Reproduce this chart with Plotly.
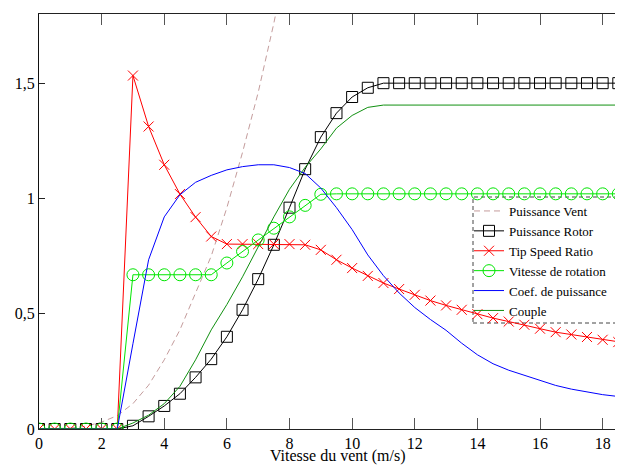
import plotly.graph_objects as go

# Wind speed (m/s)
vitesse = [0, 0.5, 1, 1.5, 2, 2.5, 3, 3.5, 4, 4.5, 5, 5.5, 6, 6.5, 7, 7.5, 8, 8.5, 9, 9.5,
           10, 10.5, 11, 11.5, 12, 12.5, 13, 13.5, 14, 14.5, 15, 15.5, 16, 16.5, 17, 17.5,
           18, 18.5, 19]

puissance_vent = [0, 0.0005, 0.004, 0.012, 0.03, 0.058, 0.11, 0.19, 0.30, 0.43, 0.59, 0.75,
                  0.96, 1.2, 1.46, 1.76, 2.1]

puissance_rotor = [0, 0, 0, 0, 0, 0, 0.014, 0.055, 0.10, 0.153, 0.224, 0.303, 0.40, 0.517,
                   0.65, 0.799, 0.96, 1.127, 1.266, 1.37, 1.44, 1.48, 1.50, 1.50, 1.50, 1.50,
                   1.50, 1.50, 1.50, 1.50, 1.50, 1.50, 1.50, 1.50, 1.50, 1.50, 1.50, 1.50, 1.50]

tip_speed_ratio = [0, 0, 0, 0, 0, 0, 1.533, 1.312, 1.146, 1.019, 0.919, 0.835, 0.802, 0.802,
                   0.802, 0.802, 0.802, 0.799, 0.777, 0.734, 0.698, 0.664, 0.633, 0.607, 0.582,
                   0.557, 0.536, 0.517, 0.498, 0.481, 0.466, 0.452, 0.435, 0.42, 0.41, 0.399,
                   0.387, 0.377, 0.368]

vitesse_rotation = [0, 0, 0, 0, 0, 0, 0.669, 0.669, 0.669, 0.669, 0.669, 0.669, 0.72, 0.77,
                    0.82, 0.871, 0.92, 0.97, 1.018, 1.02, 1.02, 1.02, 1.02, 1.02, 1.02, 1.02,
                    1.02, 1.02, 1.02, 1.02, 1.02, 1.02, 1.02, 1.02, 1.02, 1.02, 1.02, 1.02, 1.02]

coef_puissance = [0, 0, 0, 0, 0, 0, 0.37, 0.734, 0.92, 1.016, 1.07, 1.10, 1.124, 1.138, 1.146,
                  1.146, 1.134, 1.108, 1.045, 0.96, 0.865, 0.755, 0.665, 0.59, 0.527, 0.475,
                  0.428, 0.372, 0.322, 0.283, 0.255, 0.232, 0.209, 0.189, 0.173, 0.16, 0.149,
                  0.141, 0.134]

couple = [0, 0, 0, 0, 0, 0, 0.026, 0.06, 0.11, 0.185, 0.30, 0.43, 0.54, 0.66, 0.79, 0.92,
          1.04, 1.135, 1.215, 1.305, 1.36, 1.395, 1.405, 1.405, 1.405, 1.405, 1.405, 1.405,
          1.405, 1.405, 1.405, 1.405, 1.405, 1.405, 1.405, 1.405, 1.405, 1.405, 1.405]

x_ticks = [0, 2, 4, 6, 8, 10, 12, 14, 16, 18]
y_ticks = [0, 0.5, 1, 1.5]
y_tick_labels = ["0", "0,5", "1", "1,5"]

FONT = "Liberation Serif, Times New Roman, serif"

fig = go.Figure()
fig.add_trace(go.Scatter(x=vitesse[:len(puissance_vent)], y=puissance_vent, mode="lines",
                         name="Puissance Vent",
                         line=dict(color="#c49c9c", width=1, dash="6px,4px")))
fig.add_trace(go.Scatter(x=vitesse, y=puissance_rotor, mode="lines+markers",
                         name="Puissance Rotor",
                         line=dict(color="black", width=1),
                         marker=dict(symbol="square-open", size=11, color="black",
                                     line=dict(width=1, color="black"))))
fig.add_trace(go.Scatter(x=vitesse, y=tip_speed_ratio, mode="lines+markers",
                         name="Tip Speed Ratio",
                         line=dict(color="#ff0000", width=1),
                         marker=dict(symbol="x-thin-open", size=10, color="#ff0000",
                                     line=dict(width=1, color="#ff0000"))))
fig.add_trace(go.Scatter(x=vitesse, y=vitesse_rotation, mode="lines+markers",
                         name="Vitesse de rotation",
                         line=dict(color="#00e600", width=1),
                         marker=dict(symbol="circle-open", size=12, color="#00e600",
                                     line=dict(width=1, color="#00e600"))))
fig.add_trace(go.Scatter(x=vitesse, y=coef_puissance, mode="lines",
                         name="Coef. de puissance",
                         line=dict(color="#0000ff", width=1)))
fig.add_trace(go.Scatter(x=vitesse, y=couple, mode="lines",
                         name="Couple",
                         line=dict(color="#109010", width=1)))

# The page body adds an 8px offset; positions below are given in window pixels.
OFF = 8
W, H = 623 - OFF, 466 - OFF
L, T = 39 - OFF, 14 - OFF
R = 0
B = 466 - 429
pw = W - L - R
ph = H - T - B

def px_x(p):
    return (p - OFF - L) / pw

def px_y(p):
    return (H - B - (p - OFF)) / ph

fig.update_layout(
    width=W, height=H,
    margin=dict(l=L, r=R, t=T, b=B, autoexpand=False),
    paper_bgcolor="white", plot_bgcolor="white",
    font=dict(family=FONT, size=16, color="black"),
    showlegend=True,
    legend=dict(x=px_x(469), y=px_y(196), xanchor="left", yanchor="top",
                bgcolor="rgba(0,0,0,0)", borderwidth=0,
                font=dict(family=FONT, size=13, color="black"),
                tracegroupgap=0, itemwidth=30),
    shapes=[dict(type="rect", xref="paper", yref="paper",
                 x0=px_x(473), x1=px_x(619), y0=px_y(323), y1=px_y(197),
                 line=dict(color="#444", width=1, dash="4px,3px"),
                 fillcolor="white", layer="below")],
    annotations=[dict(text="Vitesse du vent (m/s)", xref="paper", yref="paper",
                      x=px_x(337), y=px_y(456), xanchor="center", yanchor="middle",
                      showarrow=False, font=dict(family=FONT, size=16, color="black"))],
    xaxis=dict(range=[0, 18.65], tickvals=x_ticks, ticks="inside", ticklen=11,
               tickcolor="#555", showline=True, linecolor="#222", linewidth=1,
               mirror="ticks", showgrid=False, zeroline=False,
               tickfont=dict(family=FONT, size=16)),
    yaxis=dict(range=[0, 1.8], tickvals=y_ticks, ticktext=y_tick_labels,
               ticks="inside", ticklen=6, tickcolor="#222", showline=True,
               linecolor="#111", linewidth=1, mirror=False, showgrid=False,
               zeroline=False, tickfont=dict(family=FONT, size=16)),
)

fig.write_html("out.html")
